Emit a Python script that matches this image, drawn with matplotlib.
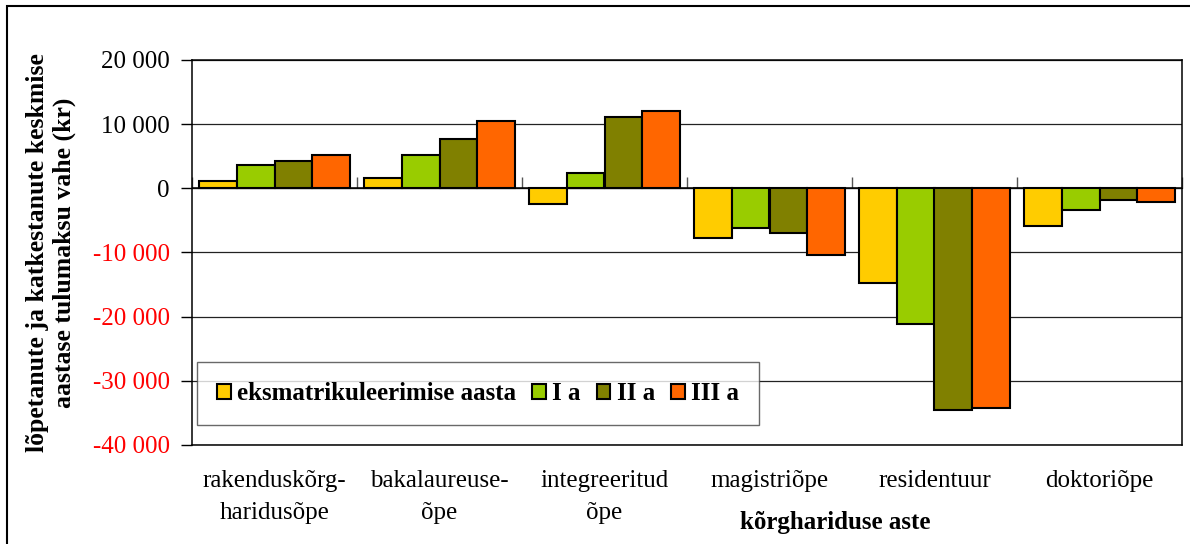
import numpy as np
import matplotlib
from matplotlib import pyplot as plt
from matplotlib.patches import Rectangle

matplotlib.use('agg')

plt.rcParams['font.family'] = ['Liberation Serif', 'DejaVu Serif']

categories = ["rakenduskõrg-\nharidusõpe", "bakalaureuse-\nõpe", "integreeritud\nõpe",
              "magistriõpe", "residentuur", "doktoriõpe"]
series_names = ["eksmatrikuleerimise aasta", "I a", "II a", "III a"]
series_colors = ["#FFCC00", "#99CC00", "#808000", "#FF6600"]

eksmatrikuleerimise_aasta = [1200, 1560, -2490, -7700, -14800, -5850]
i_a = [3640, 5200, 2440, -6150, -21150, -3400]
ii_a = [4260, 7690, 11060, -7000, -34600, -1850]
iii_a = [5200, 10490, 12000, -10450, -34300, -2150]

y_ticks = [20000, 10000, 0, -10000, -20000, -30000, -40000]

series = [eksmatrikuleerimise_aasta, i_a, ii_a, iii_a]

fig = plt.figure(figsize=(11.9, 5.44), dpi=100)
ax = fig.add_axes([192 / 1190, 1 - 445 / 544, 990 / 1190, 385 / 544])

x = np.arange(len(categories))
width = 0.229
for i, (vals, name, col) in enumerate(zip(series, series_names, series_colors)):
    ax.bar(x + (i - 1.5) * width, vals, width, color=col, edgecolor="black",
           linewidth=1.5, label=name, zorder=3)

ax.set_xlim(-0.5, len(categories) - 0.5)
ax.set_ylim(-40000, 20000)
ax.set_yticks(y_ticks)
ax.set_yticklabels([f"{v:,}".replace(",", " ") for v in y_ticks])
for lab, v in zip(ax.get_yticklabels(), y_ticks):
    lab.set_color("#FF0000" if v < 0 else "black")
ax.tick_params(axis="y", direction="out", length=8, width=1, labelsize=18, pad=8)
ax.yaxis.grid(True, color="#222222", linewidth=0.9, zorder=0)
ax.axhline(0, color="black", linewidth=1.1, zorder=4)

ax.set_xticks(x)
ax.set_xticklabels(categories, fontsize=18, linespacing=1.6)
ax.tick_params(axis="x", length=0, pad=18)

for s in ax.spines.values():
    s.set_linewidth(1.1)
    s.set_color("black")

# category separator ticks on the zero line
zero_pos = (0 - ax.get_ylim()[0]) / (ax.get_ylim()[1] - ax.get_ylim()[0])
sec = ax.secondary_xaxis(zero_pos)
sec.set_xticks(np.arange(len(categories) + 1) - 0.5)
sec.set_xticklabels([])
sec.tick_params(direction="out", length=8, width=1, color="#555555")
sec.spines["bottom"].set_visible(False)

ax.set_xlabel("kõrghariduse aste", fontsize=18, fontweight="bold")
ax.xaxis.set_label_coords(643 / 990, -0.172)

fig.text(51 / 1190, 1 - 253 / 544,
         "lõpetanute ja katkestanute keskmise\naastase tulumaksu vahe (kr)",
         rotation=90, ha="center", va="center", multialignment="center",
         fontsize=18.5, fontweight="bold", linespacing=1.15)

leg = ax.legend(ncol=4, loc="center", mode="expand",
                bbox_to_anchor=(5 / 990, 19 / 385, 562 / 990, 65 / 385),
                prop={"size": 18, "weight": "bold"}, frameon=True, fancybox=False,
                borderpad=0.8, handlelength=0.55, handleheight=0.55,
                handletextpad=0.25, columnspacing=1.1, borderaxespad=0)
leg.get_frame().set_edgecolor("#444444")
leg.get_frame().set_linewidth(1.0)
leg.set_zorder(5)

fig.patches.append(Rectangle((7 / 1190, -0.1), 1.2, 1 - 6 / 544 + 0.1,
                             transform=fig.transFigure, fill=False,
                             edgecolor="black", linewidth=1.5))

fig.savefig("out.png", dpi=100)
plt.close(fig)
